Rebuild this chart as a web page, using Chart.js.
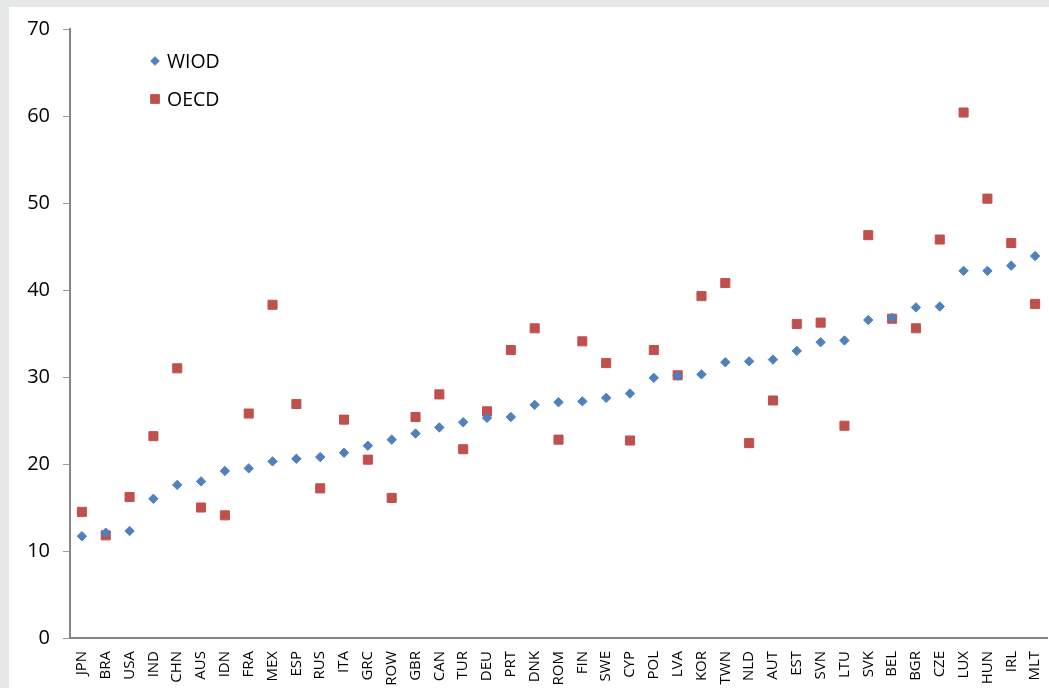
<!DOCTYPE html>
<html>
<head>
<meta charset="utf-8">
<script src="https://cdn.jsdelivr.net/npm/chart.js@4.4.1/dist/chart.umd.min.js"></script>
<style>
  html, body { margin: 0; padding: 0; background: #e6e7e9; width: 1049px; height: 688px; overflow: hidden; }
  #frame { position: absolute; left: 9px; top: 7px; width: 1040px; height: 681px; background: #ffffff; overflow: hidden; }
  canvas { display: block; }
</style>
</head>
<body>
<div id="frame"><canvas id="c" width="1040" height="681"></canvas></div>
<script>
const categories = ["JPN","BRA","USA","IND","CHN","AUS","IDN","FRA","MEX","ESP","RUS","ITA","GRC","ROW","GBR","CAN","TUR","DEU","PRT","DNK","ROM","FIN","SWE","CYP","POL","LVA","KOR","TWN","NLD","AUT","EST","SVN","LTU","SVK","BEL","BGR","CZE","LUX","HUN","IRL","MLT"];
const wiod = [11.7,12.1,12.3,16.0,17.6,18.0,19.2,19.5,20.3,20.6,20.8,21.3,22.1,22.8,23.5,24.2,24.8,25.3,25.4,26.8,27.1,27.2,27.6,28.1,29.9,30.15,30.3,31.7,31.8,32.0,33.0,34.0,34.2,36.55,36.8,38.0,38.1,42.2,42.2,42.8,43.9];
const oecd = [14.5,11.8,16.2,23.2,31.0,15.0,14.1,25.8,38.3,26.9,17.2,25.1,20.5,16.1,25.4,28.0,21.7,26.05,33.1,35.6,22.8,34.1,31.6,22.7,33.1,30.2,39.3,40.8,22.4,27.3,36.1,36.25,24.4,46.3,36.7,35.6,45.8,60.4,50.5,45.4,38.4];
const yTicks = [0,10,20,30,40,50,60,70];
const seriesNames = ["WIOD","OECD"];

const FONT = '"Open Sans", "Liberation Sans", sans-serif';

const legendPlugin = {
  id: 'insideLegend',
  afterDraw(chart) {
    const ctx = chart.ctx;
    const rows = [54, 92];
    chart.data.datasets.forEach((ds, i) => {
      ctx.save();
      ctx.fillStyle = ds.backgroundColor;
      ctx.strokeStyle = ds.borderColor;
      ctx.lineWidth = 1;
      Chart.helpers.drawPoint(ctx, {pointStyle: ds.pointStyle, rotation: 0, radius: ds.pointStyle === 'rect' ? 6.2 : 4.3, borderWidth: 1}, 146, rows[i]);
      ctx.fillStyle = '#000000';
      ctx.font = '19.5px ' + FONT;
      ctx.textBaseline = 'middle';
      ctx.textAlign = 'left';
      ctx.fillText(ds.label, 158, rows[i] + 1);
      ctx.restore();
    });
  }
};

new Chart(document.getElementById('c'), {
  type: 'line',
  data: {
    labels: categories,
    datasets: [
      { label: seriesNames[0], data: wiod, showLine: false, pointStyle: 'rectRot', pointRadius: 4.7, pointHoverRadius: 4.7,
        backgroundColor: '#4f81bd', borderColor: '#4f81bd', pointBorderWidth: 1, order: 1 },
      { label: seriesNames[1], data: oecd, showLine: false, pointStyle: 'rect', pointRadius: 6.4, pointHoverRadius: 6.4,
        backgroundColor: '#c0504d', borderColor: '#c0504d', pointBorderWidth: 1, order: 2 }
    ]
  },
  options: {
    responsive: false,
    animation: false,
    events: [],
    layout: { autoPadding: false, padding: { top: 22, right: 2, left: 0, bottom: 0 } },
    plugins: { legend: { display: false }, tooltip: { enabled: false } },
    scales: {
      x: {
        type: 'category',
        offset: true,
        grid: { display: false, drawTicks: false },
        border: { display: true, color: '#868686', width: 2 },
        ticks: {
          autoSkip: false, minRotation: 90, maxRotation: 90, padding: 13,
          color: '#000000', font: { family: FONT, size: 15 }
        },
        afterFit(scale) { scale.height = 50; scale.paddingLeft = 0; scale.paddingRight = 0; }
      },
      y: {
        min: 0, max: 70,
        afterBuildTicks(scale) { scale.ticks = yTicks.map(v => ({ value: v })); },
        grid: { display: true, drawOnChartArea: false, drawTicks: true, tickLength: 7, color: '#9a9a9a', lineWidth: 1 },
        border: { display: true, color: '#868686', width: 2 },
        ticks: {
          padding: 13, color: '#000000',
          font: { family: FONT, size: 20 }
        },
        afterFit(scale) { scale.width = 61; scale.paddingTop = 0; scale.paddingBottom = 0; }
      }
    }
  },
  plugins: [legendPlugin]
});
</script>
</body>
</html>
